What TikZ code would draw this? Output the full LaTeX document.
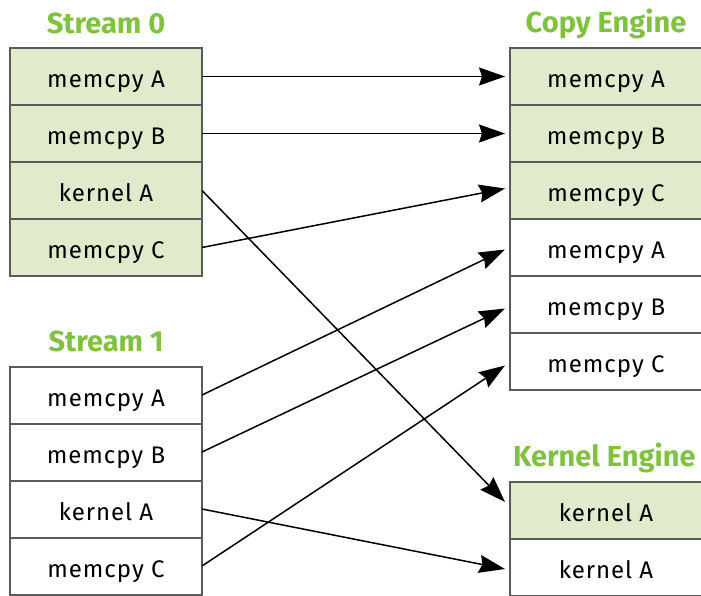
\documentclass[tikz,border=0pt]{standalone}
\usepackage{fontspec}
\setmainfont{Fira Sans}
\newfontfamily\cellfont{Fira Sans}[LetterSpace=4]
\usetikzlibrary{arrows.meta, positioning}
\definecolor{nvgreen}{RGB}{128,194,64}
\definecolor{cellgreen}{RGB}{223,235,203}
\definecolor{cellgray}{RGB}{90,90,90}

\begin{document}
\begin{tikzpicture}[x=1pt, y=-1pt, node distance=0pt,
every node/.style={align=center}, >={Stealth[length=26pt, width=18pt, inset=3pt]}]
  \tikzset{
    cell/.style={rectangle, draw=cellgray, line width=2pt, outer sep=0pt,
      minimum width=192pt, minimum height=57pt, text height=22pt, text depth=0pt,
      font=\cellfont\fontsize{24}{26}\selectfont},
    busy/.style={cell, fill=cellgreen},
    title/.style={text=nvgreen, text depth=0pt, inner sep=0pt,
      font=\fontsize{29}{31}\selectfont\bfseries},
    link/.style={->, line width=1.5pt}
  }
  \useasboundingbox (0,0) rectangle (701,596);

  % Stream 0
  \node[busy] (s0a) at (106,76.5) {memcpy A};
  \node[busy, below=of s0a] (s0b) {memcpy B};
  \node[busy, below=of s0b] (s0k) {kernel A};
  \node[busy, below=of s0k] (s0c) {memcpy C};
  \node[title, above=14pt of s0a] (s0title) {Stream 0};

  % Stream 1
  \node[cell] (s1a) at (106,395) {memcpy A};
  \node[cell, below=of s1a] (s1b) {memcpy B};
  \node[cell, below=of s1b] (s1k) {kernel A};
  \node[cell, below=of s1k] (s1c) {memcpy C};
  \node[title, above=15pt of s1a] (s1title) {Stream 1};

  % Copy Engine
  \node[busy] (ce1) at (606,76.5) {memcpy A};
  \node[busy, below=of ce1] (ce2) {memcpy B};
  \node[busy, below=of ce2] (ce3) {memcpy C};
  \node[cell, below=of ce3] (ce4) {memcpy A};
  \node[cell, below=of ce4] (ce5) {memcpy B};
  \node[cell, below=of ce5] (ce6) {memcpy C};
  \node[title, above=15pt of ce1] (cetitle) {Copy Engine};

  % Kernel Engine
  \node[busy] (ke1) at (606,510) {kernel A};
  \node[cell, below=of ke1] (ke2) {kernel A};
  \node[title, anchor=south west] at ([xshift=3pt, yshift=15pt]ke1.north west) (ketitle) {Kernel Engine};

  % Transfers
  \draw[link] (s0a.east) -- ([xshift=-5pt]ce1.west);
  \draw[link] (s0b.east) -- ([xshift=-5pt]ce2.west);
  \draw[link] (s0k.east) -- ([xshift=-5pt, yshift=8pt]ke1.west);
  \draw[link] (s0c.east) -- ([xshift=-5pt, yshift=2pt]ce3.west);
  \draw[link] (s1a.east) -- ([xshift=-5pt, yshift=-2pt]ce4.west);
  \draw[link] (s1b.east) -- ([xshift=-5pt, yshift=-4pt]ce5.west);
  \draw[link] (s1k.east) -- ([xshift=-5pt, yshift=-2pt]ke2.west);
  \draw[link] (s1c.east) -- ([xshift=-5pt, yshift=-4pt]ce6.west);

\end{tikzpicture}
\end{document}
